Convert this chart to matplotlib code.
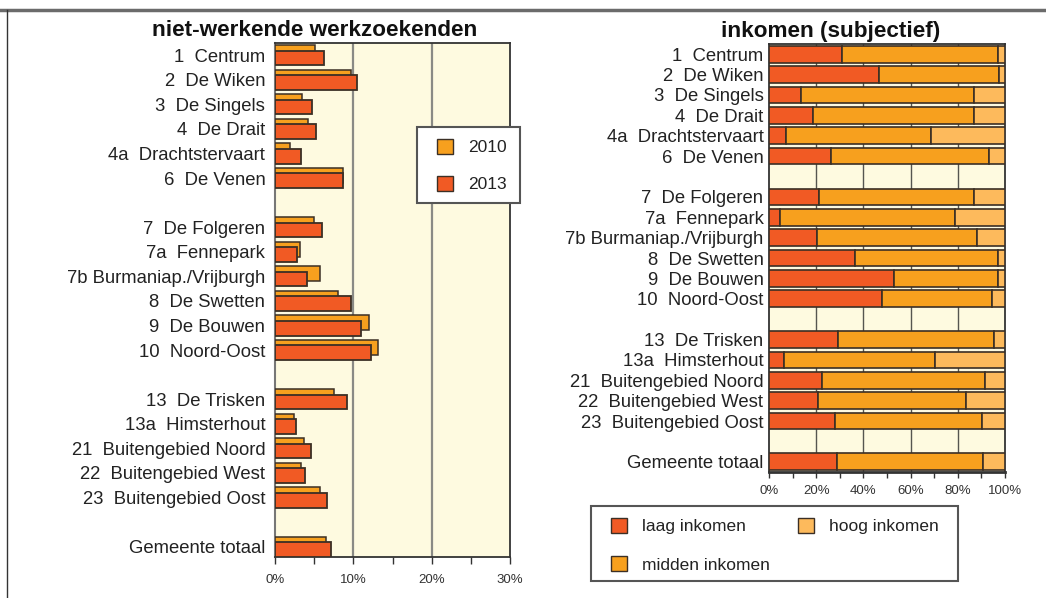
import matplotlib.pyplot as plt
from matplotlib.patches import Patch, Rectangle
from matplotlib.lines import Line2D

plt.rcParams['font.family'] = ['Liberation Sans', 'DejaVu Sans']

# wijken, in volgorde van boven naar beneden (None = lege regel)
wijken = ['1  Centrum', '2  De Wiken', '3  De Singels', '4  De Drait',
          '4a  Drachtstervaart', '6  De Venen', None,
          '7  De Folgeren', '7a  Fennepark', '7b Burmaniap./Vrijburgh',
          '8  De Swetten', '9  De Bouwen', '10  Noord-Oost', None,
          '13  De Trisken', '13a  Himsterhout', '21  Buitengebied Noord',
          '22  Buitengebied West', '23  Buitengebied Oost', None,
          'Gemeente totaal']

# niet-werkende werkzoekenden (%)
werkzoek_2010 = [5.1, 9.7, 3.5, 4.2, 1.9, 8.7,
                 5.0, 3.2, 5.8, 8.1, 12.0, 13.1,
                 7.5, 2.4, 3.7, 3.3, 5.7,
                 6.5]
werkzoek_2013 = [6.2, 10.5, 4.7, 5.2, 3.3, 8.7,
                 6.0, 2.8, 4.1, 9.7, 11.0, 12.2,
                 9.2, 2.7, 4.6, 3.8, 6.7,
                 7.1]

# inkomen (subjectief, %)
laag = [30.8, 46.6, 13.7, 18.5, 7.1, 26.3,
        21.0, 4.8, 20.2, 36.4, 52.8, 47.9,
        29.1, 6.2, 22.5, 20.9, 28.1,
        28.7]
midden = [66.1, 50.7, 73.0, 68.2, 61.5, 66.8,
          65.7, 73.9, 67.9, 60.6, 44.2, 46.6,
          66.2, 64.0, 69.0, 62.6, 62.2,
          61.8]
hoog = [3.1, 2.7, 13.3, 13.3, 31.4, 6.9,
        13.3, 21.3, 11.9, 3.0, 3.0, 5.5,
        4.7, 29.8, 8.5, 16.5, 9.7,
        9.5]

kleur_laag = '#F15A24'
kleur_midden = '#F7A01E'
kleur_hoog = '#FDBA5C'
rand = '#3b2f25'
achtergrond = '#FEFAE0'
tekst = '#222222'

posities = [i for i, w in enumerate(wijken) if w is not None]
labels = [w for w in wijken if w is not None]

W, H = 1046, 598
fig = plt.figure(figsize=(W / 100, H / 100), dpi=100)


def px_axes(x0, x1, top, bottom):
    return fig.add_axes([x0 / W, 1 - bottom / H, (x1 - x0) / W, (bottom - top) / H])


def px_kader(x0, x1, top, bottom):
    # witte legendakader met grijze rand, in pixels
    fig.add_artist(Rectangle((x0 / W, 1 - bottom / H), (x1 - x0) / W, (bottom - top) / H,
                             transform=fig.transFigure, facecolor='white',
                             edgecolor='#555555', linewidth=1.5, zorder=5))


# kader rond de figuur
fig.add_artist(Line2D([0, 1], [1 - 10 / H, 1 - 10 / H], color='#6b6b6b', lw=2.5,
                      transform=fig.transFigure))
fig.add_artist(Line2D([7 / W, 7 / W], [0, 1 - 10 / H], color='#333333', lw=1,
                      transform=fig.transFigure))

# ---- linker grafiek: niet-werkende werkzoekenden ----
ax1 = px_axes(275, 510, 43, 557)
ax1.set_facecolor(achtergrond)
ax1.barh([p - 0.11 for p in posities], werkzoek_2010, height=0.6,
         color=kleur_midden, edgecolor=rand, linewidth=1.1, zorder=3)
ax1.barh([p + 0.11 for p in posities], werkzoek_2013, height=0.6,
         color=kleur_laag, edgecolor=rand, linewidth=1.3, zorder=4)
ax1.set_xlim(0, 30)
ax1.set_ylim(20.42, -0.5)
ax1.set_yticks(posities)
ax1.set_yticklabels(labels, fontsize=13.3, color=tekst)
ax1.tick_params(axis='y', length=0, pad=7)
ax1.set_xticks([0, 10, 20, 30])
ax1.set_xticklabels(['0%', '10%', '20%', '30%'], fontsize=9.5, color='#333333')
ax1.set_xticks([5, 15, 25], minor=True)
ax1.tick_params(axis='x', which='both', direction='out', length=5, width=1,
                color='#333333', pad=7)
for x in (10, 20):
    ax1.axvline(x, color='#8a8a85', lw=1.6, zorder=1)
for side in ('top', 'right', 'bottom'):
    ax1.spines[side].set_color('#333333')
    ax1.spines[side].set_linewidth(1.3)
ax1.spines['left'].set_color('#777777')
ax1.spines['left'].set_linewidth(1.5)
fig.text(315 / W, 1 - 31 / H, 'niet-werkende werkzoekenden', ha='center', va='center',
         fontsize=16.2, fontweight='bold', color='#111111')

px_kader(417, 520, 127, 203)
leg1 = fig.legend(handles=[Patch(facecolor=kleur_midden, edgecolor=rand, label='2010'),
                           Patch(facecolor=kleur_laag, edgecolor=rand, label='2013')],
                  loc='upper left', bbox_to_anchor=(437 / W, 1 - 139 / H), borderaxespad=0,
                  frameon=False, fontsize=12.5, handlelength=0.95, handleheight=0.95,
                  labelspacing=1.18, borderpad=0, handletextpad=0.85)
leg1.set_zorder(6)
for t in leg1.get_texts():
    t.set_color(tekst)

# ---- rechter grafiek: inkomen (subjectief) ----
ax2 = px_axes(769, 1005, 44, 472)
ax2.set_facecolor(achtergrond)
kw = dict(height=0.82, edgecolor=rand, linewidth=1.2, zorder=3)
ax2.barh(posities, laag, color=kleur_laag, **kw)
ax2.barh(posities, midden, left=laag, color=kleur_midden, **kw)
ax2.barh(posities, hoog, left=[a + b for a, b in zip(laag, midden)], color=kleur_hoog, **kw)
ax2.set_xlim(0, 100)
ax2.set_ylim(20.5, -0.5)
ax2.set_yticks(posities)
ax2.set_yticklabels(labels, fontsize=13.3, color=tekst)
ax2.tick_params(axis='y', length=0, pad=4)
ax2.set_xticks(range(0, 101, 20))
ax2.set_xticklabels([f'{v}%' for v in range(0, 101, 20)], fontsize=9.5, color='#333333')
ax2.set_xticks(range(10, 100, 20), minor=True)
ax2.tick_params(axis='x', which='both', direction='out', length=4, width=1,
                color='#333333', pad=5)
for x in (20, 40, 60, 80):
    ax2.axvline(x, color='#555550', lw=1, zorder=1)
for side in ax2.spines.values():
    side.set_color('#333333')
    side.set_linewidth(1.3)
ax2.spines['bottom'].set_linewidth(2)
fig.text(831 / W, 1 - 31 / H, 'inkomen (subjectief)', ha='center', va='center',
         fontsize=16.2, fontweight='bold', color='#111111')

px_kader(591, 958, 506, 581)
leg2 = fig.legend(handles=[Patch(facecolor=kleur_laag, edgecolor=rand, label='laag inkomen'),
                           Patch(facecolor=kleur_midden, edgecolor=rand, label='midden inkomen'),
                           Patch(facecolor=kleur_hoog, edgecolor=rand, label='hoog inkomen')],
                  ncol=2, loc='upper left', bbox_to_anchor=(611 / W, 1 - 518 / H),
                  borderaxespad=0, frameon=False, fontsize=12.5, handlelength=0.95,
                  handleheight=0.95, labelspacing=1.25, borderpad=0, handletextpad=0.85,
                  columnspacing=1.6)
leg2.set_zorder(6)
for t in leg2.get_texts():
    t.set_color(tekst)

fig.savefig('out.png', dpi=100)
